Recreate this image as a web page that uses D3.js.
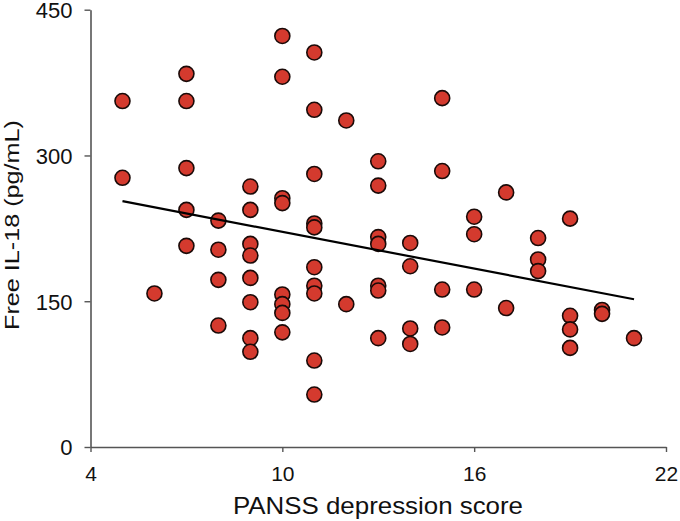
<!DOCTYPE html>
<html><head><meta charset="utf-8">
<script src="https://cdn.jsdelivr.net/npm/d3@7"></script>
<style>body{margin:0;background:#fff;} svg{display:block;font-family:"Liberation Sans",Arial,sans-serif;}</style>
</head><body>
<svg id="c" width="680" height="521"></svg>
<script>
const xTicks = [4, 10, 16, 22];
const yTicks = [0, 150, 300, 450];
const scoreX = [5,5, 6, 7,7,7,7,7, 8,8,8,8, 9,9,9,9,9,9,9,9, 10,10,10,10,10,10,10,10,
  11,11,11,11,11,11,11,11,11,11, 12,12, 13,13,13,13,13,13,13, 14,14,14,14, 15,15,15,15,
  16,16,16, 17,17, 18,18,18, 19,19,19,19, 20,20, 21];
const il18Y = [356,277, 158, 384,356,287,244,207, 233,203,172,125, 268,244,209,197,174,149,112,98,
  423,381,256,251,157,147,138,118, 406,347,281,230,226,185,166,158,89,54, 336,147,
  294,269,216,209,166,161,112, 210,186,122,106, 359,284,162,123, 237,219,162, 262,143,
  215,193,181, 235,135,121,102, 141,137, 112];
const fitX = [5, 21];
const fitY = [253, 152];

const svg = d3.select("#c");
const x = d3.scaleLinear().domain([4, 22]).range([90.5, 666]);
const y = d3.scaleLinear().domain([0, 450]).range([447, 9.7]);

const axisColor = "#555";
const gx = svg.append("g").attr("transform", "translate(0,447)")
  .call(d3.axisBottom(x).tickValues(xTicks).tickSize(5).tickPadding(14).tickSizeOuter(0));
const gy = svg.append("g").attr("transform", "translate(90.5,0)")
  .call(d3.axisLeft(y).tickValues(yTicks).tickSize(6).tickPadding(12).tickSizeOuter(0));
[gx, gy].forEach(g => {
  g.select(".domain").attr("stroke", axisColor).attr("stroke-width", 1.6);
  g.selectAll(".tick line").attr("stroke", axisColor).attr("stroke-width", 1.4);
  g.selectAll(".tick text").attr("fill", "#111");
});
gx.selectAll(".tick text").style("font-size", "21px");
gy.selectAll(".tick text").style("font-size", "22px").attr("dy", "0.36em");

svg.append("text").attr("x", 378).attr("y", 514).attr("text-anchor", "middle")
  .attr("fill", "#111").style("font-size", "24px")
  .attr("textLength", 290).attr("lengthAdjust", "spacingAndGlyphs")
  .text("PANSS depression score");
svg.append("text").attr("transform", "translate(19,225) rotate(-90)").attr("text-anchor", "middle")
  .attr("fill", "#111").style("font-size", "21px")
  .attr("textLength", 210).attr("lengthAdjust", "spacingAndGlyphs")
  .text("Free IL-18 (pg/mL)");

const pts = scoreX.map((v, i) => ({x: v, y: il18Y[i]}));
svg.append("g").selectAll("circle").data(pts).join("circle")
  .attr("cx", d => x(d.x)).attr("cy", d => y(d.y)).attr("r", 7.5)
  .attr("fill", "#d43a2e").attr("stroke", "#1a0a08").attr("stroke-width", 1.6);

svg.append("line").attr("x1", x(fitX[0])).attr("y1", y(fitY[0]))
  .attr("x2", x(fitX[1])).attr("y2", y(fitY[1]))
  .attr("stroke", "#000").attr("stroke-width", 2.2);
</script>
</body></html>
